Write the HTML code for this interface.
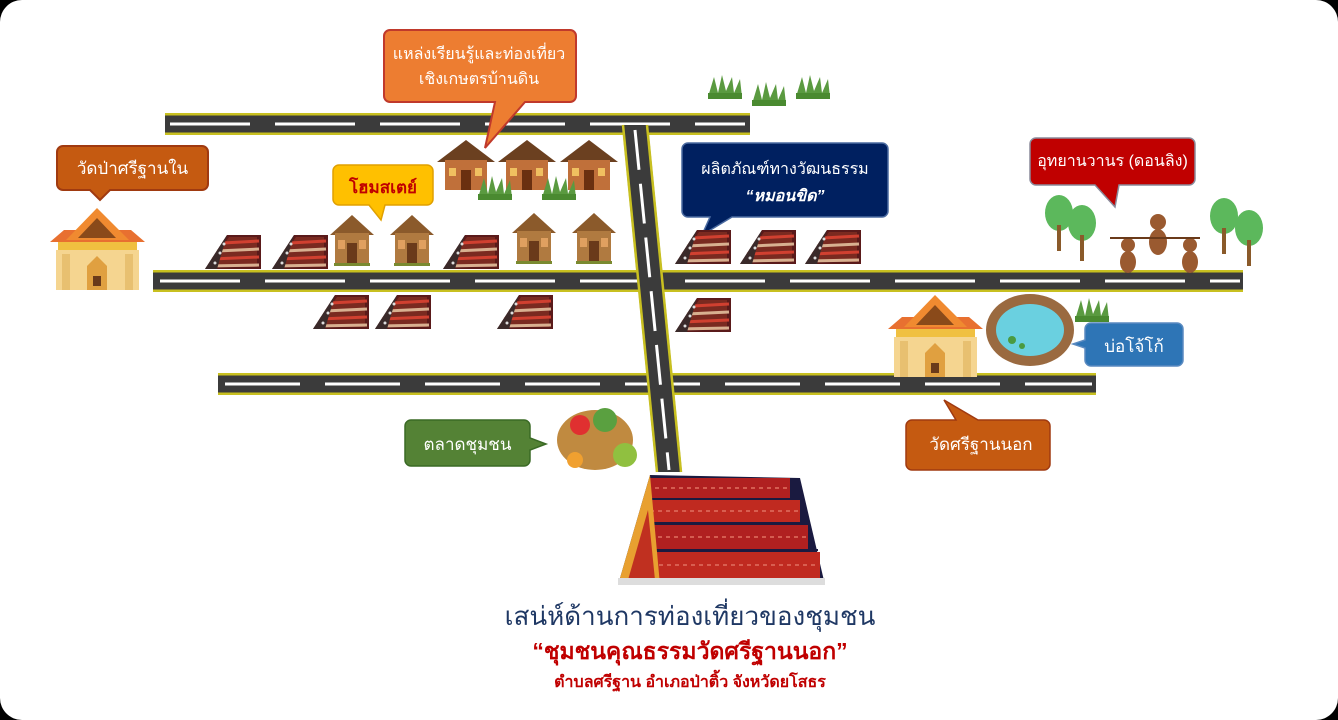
<!DOCTYPE html>
<html><head><meta charset="utf-8"><style>
html,body{margin:0;padding:0;background:#000;}
#c{position:relative;width:1338px;height:720px;background:#fff;border-radius:22px;overflow:hidden;font-family:"Liberation Sans",sans-serif;}
.t{position:absolute;left:0;width:1338px;text-align:center;}
</style></head><body><div id="c">
<svg width="1338" height="720" style="position:absolute;left:0;top:0">
<defs>
<g id="pil">
<polygon points="0,34 22,0 56,0 56,34" fill="#5a1a1a"/>
<polygon points="4,32 24,2 52,2 52,32" fill="#7a2a20"/>
<line x1="18" y1="8" x2="54" y2="6" stroke="#d04030" stroke-width="3"/>
<line x1="12" y1="16" x2="54" y2="14" stroke="#d8b090" stroke-width="3"/>
<line x1="7" y1="24" x2="54" y2="22" stroke="#d04030" stroke-width="3"/>
<line x1="3" y1="31" x2="54" y2="30" stroke="#d8b090" stroke-width="3"/>
<polygon points="0,34 22,0 12,34" fill="#3a2a2a"/>
<g fill="#ddd"><circle cx="10" cy="28" r="1.5"/><circle cx="15" cy="18" r="1.5"/><circle cx="19" cy="9" r="1.5"/></g>
</g>
<g id="house">
<polygon points="0,20 22,0 44,20" fill="#8b5a2b"/>
<rect x="5" y="18" width="34" height="30" fill="#b07a40"/>
<rect x="17" y="28" width="10" height="20" fill="#6a3a1a"/>
<rect x="8" y="25" width="7" height="9" fill="#e0a060"/>
<rect x="29" y="25" width="7" height="9" fill="#e0a060"/>
<rect x="4" y="48" width="36" height="3" fill="#7a8a30"/>
</g>
<g id="hut">
<polygon points="0,22 29,0 58,22" fill="#6b4020"/>
<rect x="8" y="20" width="42" height="30" fill="#c0703a"/>
<rect x="24" y="30" width="10" height="20" fill="#6a3010"/>
<rect x="12" y="28" width="7" height="8" fill="#f0c060"/>
<rect x="38" y="28" width="7" height="8" fill="#f0c060"/>
</g>
<g id="grass">
<path d="M0,22 L6,2 L10,18 L14,0 L18,16 L24,2 L26,18 L32,4 L34,22 Z" fill="#5a9a40"/>
<rect x="0" y="18" width="34" height="6" fill="#4a8a30"/>
</g>
<g id="temple">
<polygon points="0,34 14,22 81,22 95,34" fill="#e87030"/>
<polygon points="16,32 47,0 79,32" fill="#f08a30"/>
<polygon points="28,30 47,10 66,30" fill="#8a4a1a"/>
<rect x="8" y="34" width="79" height="8" fill="#f0c040"/>
<rect x="6" y="42" width="83" height="40" fill="#f5d590"/>
<rect x="12" y="46" width="8" height="36" fill="#e8c070"/>
<rect x="75" y="46" width="8" height="36" fill="#e8c070"/>
<polygon points="37,82 37,58 47,48 57,58 57,82" fill="#e0a040"/>
<rect x="43" y="68" width="8" height="10" fill="#6a3a1a"/>
</g>
<g id="tree">
<ellipse cx="14" cy="18" rx="14" ry="18" fill="#5cb85c"/>
<rect x="12" y="30" width="4" height="26" fill="#8a5a2a"/>
</g>
</defs>

<g>
<rect x="165" y="113" width="585" height="22" fill="#3b3b3b"/>
<rect x="165" y="113" width="585" height="2.5" fill="#c8c020"/><rect x="165" y="132.5" width="585" height="2.5" fill="#c8c020"/>
<line x1="170" y1="124" x2="745" y2="124" stroke="#fff" stroke-width="3" stroke-dasharray="80,25"/>

<rect x="153" y="270" width="1090" height="22" fill="#3b3b3b"/>
<rect x="153" y="270" width="1090" height="2.5" fill="#c8c020"/><rect x="153" y="289.5" width="1090" height="2.5" fill="#c8c020"/>
<line x1="160" y1="281" x2="1240" y2="281" stroke="#fff" stroke-width="3" stroke-dasharray="80,25"/>

<rect x="218" y="373" width="878" height="22" fill="#3b3b3b"/>
<rect x="218" y="373" width="878" height="2.5" fill="#c8c020"/><rect x="218" y="392.5" width="878" height="2.5" fill="#c8c020"/>
<line x1="225" y1="384" x2="1092" y2="384" stroke="#fff" stroke-width="3" stroke-dasharray="75,25"/>

<polygon points="622,125 648,125 682,472 656,472" fill="#3b3b3b"/>
<line x1="623" y1="125" x2="657" y2="472" stroke="#c8c020" stroke-width="2.5"/>
<line x1="647" y1="125" x2="681" y2="472" stroke="#c8c020" stroke-width="2.5"/>
<line x1="635" y1="130" x2="669" y2="470" stroke="#fff" stroke-width="3" stroke-dasharray="40,14"/>
</g>

<path d="M390,30 h180 a6,6 0 0 1 6,6 v60 a6,6 0 0 1 -6,6 h-45 l-40,46 l10,-46 h-105 a6,6 0 0 1 -6,-6 v-60 a6,6 0 0 1 6,-6z" fill="#ed7d31" stroke="#c0392b" stroke-width="2"/>
<path d="M63,146 h139 a6,6 0 0 1 6,6 v32 a6,6 0 0 1 -6,6 h-92 l-10,10 l-10,-10 h-27 a6,6 0 0 1 -6,-6 v-32 a6,6 0 0 1 6,-6z" fill="#c55a11" stroke="#a03a10" stroke-width="2"/>
<path d="M339,165 h88 a6,6 0 0 1 6,6 v28 a6,6 0 0 1 -6,6 h-42 l-4,15 l-12,-15 h-30 a6,6 0 0 1 -6,-6 v-28 a6,6 0 0 1 6,-6z" fill="#ffc000" stroke="#e0a000" stroke-width="1.5"/>
<path d="M688,143 h194 a6,6 0 0 1 6,6 v62 a6,6 0 0 1 -6,6 h-150 l-30,18 l8,-18 h-22 a6,6 0 0 1 -6,-6 v-62 a6,6 0 0 1 6,-6z" fill="#002060" stroke="#4a6aa0" stroke-width="1.5"/>
<path d="M1036,138 h153 a6,6 0 0 1 6,6 v35 a6,6 0 0 1 -6,6 h-70 l-4,22 l-20,-22 h-59 a6,6 0 0 1 -6,-6 v-35 a6,6 0 0 1 6,-6z" fill="#c00000" stroke="#8a8a9a" stroke-width="1.5"/>
<path d="M1091,323 h86 a6,6 0 0 1 6,6 v31 a6,6 0 0 1 -6,6 h-86 a6,6 0 0 1 -6,-6 v-12 l-12,-4 l12,-4 v-11 a6,6 0 0 1 6,-6z" fill="#2e75b6" stroke="#5a8ac0" stroke-width="1.5"/>
<path d="M411,420 h113 a6,6 0 0 1 6,6 v12 l16,6 l-16,6 v10 a6,6 0 0 1 -6,6 h-113 a6,6 0 0 1 -6,-6 v-34 a6,6 0 0 1 6,-6z" fill="#548235" stroke="#3a6a25" stroke-width="1.5"/>
<path d="M912,420 h44 l-12,-20 l34,20 h66 a6,6 0 0 1 6,6 v38 a6,6 0 0 1 -6,6 h-132 a6,6 0 0 1 -6,-6 v-38 a6,6 0 0 1 6,-6z" fill="#c55a11" stroke="#a03a10" stroke-width="1.5"/>

<use href="#grass" x="708" y="75"/><use href="#grass" x="752" y="82"/><use href="#grass" x="796" y="75"/>
<use href="#hut" x="437" y="140"/><use href="#hut" x="498" y="140"/><use href="#hut" x="560" y="140"/>
<use href="#grass" x="478" y="176"/><use href="#grass" x="542" y="176"/>
<use href="#temple" x="50" y="208"/><use href="#temple" x="888" y="295"/>
<use href="#house" x="330" y="215"/><use href="#house" x="390" y="215"/><use href="#house" x="512" y="213"/><use href="#house" x="572" y="213"/>
<use href="#pil" x="205" y="235"/><use href="#pil" x="272" y="235"/><use href="#pil" x="443" y="235"/>
<use href="#pil" x="675" y="230"/><use href="#pil" x="740" y="230"/><use href="#pil" x="805" y="230"/>
<use href="#pil" x="313" y="295"/><use href="#pil" x="375" y="295"/><use href="#pil" x="497" y="295"/><use href="#pil" x="675" y="298"/>
<use href="#tree" x="1045" y="195"/><use href="#tree" x="1068" y="205"/><use href="#tree" x="1210" y="198"/><use href="#tree" x="1235" y="210"/>
<g fill="#9a5a30">
<circle cx="1128" cy="245" r="7"/><ellipse cx="1128" cy="262" rx="8" ry="11"/>
<circle cx="1158" cy="222" r="8"/><ellipse cx="1158" cy="242" rx="9" ry="13"/>
<circle cx="1190" cy="245" r="7"/><ellipse cx="1190" cy="262" rx="8" ry="11"/>
</g>
<line x1="1110" y1="238" x2="1200" y2="238" stroke="#6a3a1a" stroke-width="2"/>
<ellipse cx="1030" cy="330" rx="44" ry="36" fill="#9a6a40"/>
<ellipse cx="1030" cy="330" rx="34" ry="26" fill="#6ad0e0"/>
<circle cx="1012" cy="340" r="4" fill="#4a9a40"/><circle cx="1022" cy="346" r="3" fill="#4a9a40"/>
<use href="#grass" x="1075" y="298"/>
<ellipse cx="595" cy="440" rx="38" ry="30" fill="#c08a40"/>
<circle cx="580" cy="425" r="10" fill="#e03030"/><circle cx="605" cy="420" r="12" fill="#5aa040"/><circle cx="625" cy="455" r="12" fill="#90c040"/><circle cx="575" cy="460" r="8" fill="#f0a030"/>

<polygon points="618,585 650,475 800,478 825,585" fill="#1a1a40"/>
<g>
<rect x="650" y="478" width="140" height="20" fill="#b02020"/>
<rect x="645" y="500" width="155" height="22" fill="#c02a20"/>
<rect x="638" y="525" width="170" height="24" fill="#b02020"/>
<rect x="630" y="552" width="190" height="26" fill="#c02a20"/>
<g stroke="#e07060" stroke-width="1.5" stroke-dasharray="4,4"><line x1="655" y1="488" x2="790" y2="488"/><line x1="650" y1="511" x2="800" y2="511"/><line x1="642" y1="537" x2="808" y2="537"/><line x1="635" y1="565" x2="818" y2="565"/></g>
<g stroke="#1a1a40" stroke-width="2"><line x1="650" y1="499" x2="800" y2="499"/><line x1="645" y1="523" x2="808" y2="523"/><line x1="638" y1="550" x2="818" y2="550"/></g>
</g>
<polygon points="618,585 650,475 660,585" fill="#e8a030"/>
<polygon points="628,580 648,510 655,580" fill="#c03020"/>
<rect x="618" y="578" width="207" height="7" fill="#ddd"/>
</svg>

<div class="t" style="left:382px;width:194px;top:42px;color:#fff;font-size:16px;line-height:25px;">แหล่งเรียนรู้และท่องเที่ยว<br>เชิงเกษตรบ้านดิน</div>
<div class="t" style="left:57px;width:151px;top:155px;color:#fff;font-size:17px;">วัดป่าศรีฐานใน</div>
<div class="t" style="left:333px;width:100px;top:174px;color:#c00000;font-size:17px;font-weight:bold;">โฮมสเตย์</div>
<div class="t" style="left:682px;width:206px;top:156px;color:#fff;font-size:16px;line-height:27px;">ผลิตภัณฑ์ทางวัฒนธรรม<br><b><i>“หมอนขิด”</i></b></div>
<div class="t" style="left:1030px;width:165px;top:149px;color:#fff;font-size:16px;">อุทยานวานร (ดอนลิง)</div>
<div class="t" style="left:1085px;width:98px;top:333px;color:#fff;font-size:17px;">บ่อโจ้โก้</div>
<div class="t" style="left:405px;width:125px;top:431px;color:#fff;font-size:17px;">ตลาดชุมชน</div>
<div class="t" style="left:906px;width:150px;top:431px;color:#fff;font-size:17px;">วัดศรีฐานนอก</div>
<div class="t" style="left:480px;width:420px;top:596px;color:#1f3864;font-size:26px;">เสน่ห์ด้านการท่องเที่ยวของชุมชน</div>
<div class="t" style="left:480px;width:420px;top:634px;color:#c00000;font-size:23px;font-weight:bold;">“ชุมชนคุณธรรมวัดศรีฐานนอก”</div>
<div class="t" style="left:480px;width:420px;top:670px;color:#c00000;font-size:16px;font-weight:bold;">ตำบลศรีฐาน อำเภอป่าติ้ว จังหวัดยโสธร</div>
</div></body></html>
